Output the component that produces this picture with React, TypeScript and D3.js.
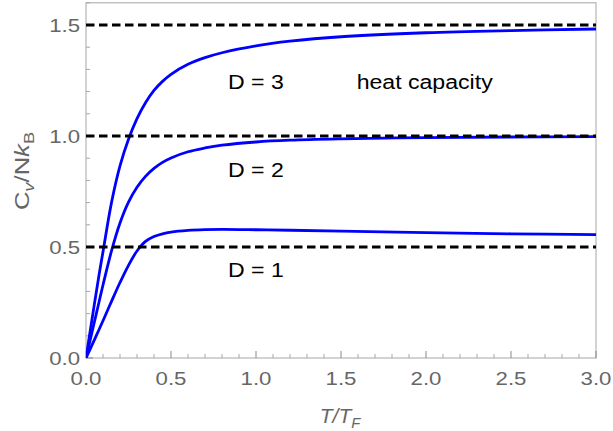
import React from "react";
import * as d3 from "d3";

const tGrid = [0, 0.025, 0.05, 0.075, 0.1, 0.15, 0.2, 0.25, 0.3, 0.35, 0.4, 0.45, 0.5, 0.6, 0.7, 0.8, 1.0, 1.2, 1.5, 2.0, 2.5, 3.0];
const cD1 = [0, 0.041, 0.083, 0.125, 0.168, 0.255, 0.34, 0.4175, 0.482, 0.525, 0.547, 0.5595, 0.567, 0.5745, 0.578, 0.5792, 0.5777, 0.5755, 0.5715, 0.5645, 0.5595, 0.5555];
const cD2 = [0, 0.0822, 0.1645, 0.2467, 0.329, 0.482, 0.608, 0.702, 0.769, 0.818, 0.854, 0.881, 0.901, 0.929, 0.946, 0.9585, 0.973, 0.981, 0.987, 0.993, 0.9956, 0.997];
const cD3 = [0, 0.123, 0.246, 0.366, 0.479, 0.7, 0.865, 0.985, 1.078, 1.15, 1.205, 1.246, 1.278, 1.323, 1.353, 1.375, 1.406, 1.427, 1.447, 1.465, 1.475, 1.482];
const seriesList = [cD1, cD2, cD3];
const limits = [0.5, 1.0, 1.5];
const xTicks = [0, 0.5, 1.0, 1.5, 2.0, 2.5, 3.0];
const yTicks = [0, 0.5, 1.0, 1.5];
const labels = [
  { text: "D = 3", t: 0.835, v: 1.212 },
  { text: "D = 2", t: 0.835, v: 0.817 },
  { text: "D = 1", t: 0.835, v: 0.366 },
  { text: "heat capacity", t: 1.592, v: 1.212 },
];

const W = 613, H = 431;
const left = 86, right = 596, top = 2.8, bottom = 358;

export default function App() {
  const x = d3.scaleLinear().domain([0, 3]).range([left, right]);
  const y = d3.scaleLinear().domain([0, 1.6]).range([bottom, top]);
  const line = d3
    .line<number>()
    .x((_, i) => x(tGrid[i]))
    .y((d) => y(d))
    .curve(d3.curveCatmullRom.alpha(0.5));
  const xMinor = d3.range(0, 3.0001, 0.1);
  const yMinor = d3.range(0, 1.6001, 0.1);
  const frame = "#a6a6a6";
  const tickCol = "#666";
  const font = "'Liberation Sans', Arial, sans-serif";
  return (
    <svg width={W} height={H} style={{ position: "absolute", left: 0, top: 0, background: "#fff" }} fontFamily={font}>
      <defs>
        <clipPath id="plot">
          <rect x={left} y={top} width={right - left} height={bottom - top} />
        </clipPath>
      </defs>
      <rect x={left} y={top} width={right - left} height={bottom - top} fill="none" stroke={frame} strokeWidth={1} />
      {xMinor.map((t, i) => {
        const major = i % 5 === 0;
        return <line key={"xm" + i} x1={x(t)} x2={x(t)} y1={bottom} y2={bottom - (major ? 7 : 4)} stroke={major ? "#888" : frame} strokeWidth={1} />;
      })}
      {yMinor.map((v, i) => {
        const major = i % 5 === 0;
        return <line key={"ym" + i} x1={left} x2={left + (major ? 7 : 4)} y1={y(v)} y2={y(v)} stroke={major ? "#888" : frame} strokeWidth={1} />;
      })}
      <g clipPath="url(#plot)">
        {seriesList.map((s, i) => (
          <path key={"s" + i} d={line(s) || ""} fill="none" stroke="#0000ff" strokeWidth={2.8} />
        ))}
        {limits.map((v, i) => (
          <line key={"l" + i} x1={left} x2={right} y1={y(v)} y2={y(v)} stroke="#000" strokeWidth={2.8} strokeDasharray="8.5,4.5" />
        ))}
      </g>
      {xTicks.map((t, i) => (
        <text key={"xt" + i} transform={`translate(${x(t)},385) scale(1.2,1)`} textAnchor="middle" fontSize={18.5} fill={tickCol}>
          {t.toFixed(1)}
        </text>
      ))}
      {yTicks.map((v, i) => (
        <text key={"yt" + i} transform={`translate(80,${y(v) + 6.7}) scale(1.2,1)`} textAnchor="end" fontSize={18.5} fill={tickCol}>
          {v.toFixed(1)}
        </text>
      ))}
      <text transform="translate(340,423) scale(1.05,1)" textAnchor="middle" fontSize={20} fill={tickCol} fontStyle="italic">
        T/T<tspan fontSize={14} dy={5}>F</tspan>
      </text>
      <text transform="translate(29,171) rotate(-90) scale(1.22,1)" textAnchor="middle" fontSize={21} fill={tickCol}>
        C<tspan fontSize={15} dy={5} fontStyle="italic">v</tspan>
        <tspan dy={-5}>/N</tspan>
        <tspan fontStyle="italic">k</tspan>
        <tspan fontSize={15} dy={5}>B</tspan>
      </text>
      {labels.map((l, i) => (
        <text key={"lb" + i} transform={`translate(${x(l.t)},${y(l.v)}) scale(1.1,1)`} fontSize={21} fill="#000">
          {l.text}
        </text>
      ))}
    </svg>
  );
}
